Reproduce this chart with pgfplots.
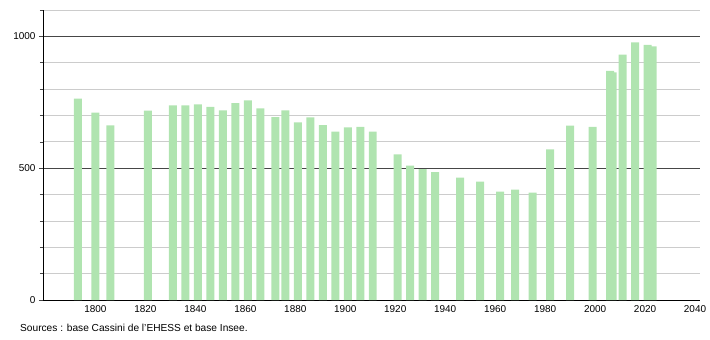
\documentclass[border=0pt]{standalone}
\usepackage{fontspec}
\setmainfont{Liberation Sans}
\usepackage{pgfplots}
\pgfplotsset{compat=1.18}
\definecolor{barg}{RGB}{176,228,176}
\definecolor{lgrid}{RGB}{204,204,204}
\definecolor{dgrid}{RGB}{70,70,70}
\begin{document}
\begin{tikzpicture}
\path (0,0) rectangle (710bp,340bp);
\begin{axis}[
  at={(43bp,40bp)}, anchor=origin,
  scale only axis, width=657bp, height=290bp,
  xmin=1779, xmax=2042, ymin=0, ymax=1100,
  axis x line=bottom, axis y line=left,
  axis line style={black, line width=0.8pt, -},
  xtick={1800,1820,...,2040},
  xtick style={draw=none},
  ytick={0,500,1000},
  minor ytick={100,200,300,400,600,700,800,900,1100},
  ymajorgrids, yminorgrids,
  major grid style={dgrid, line width=0.7pt},
  minor grid style={lgrid, line width=0.7pt},
  ytick style={dgrid, line width=0.6pt},
  minor tick style={lgrid},
  tick align=outside,
  major tick length=4bp, minor tick length=3bp,
  xticklabel style={/pgf/number format/1000 sep={}, font=\fontsize{10}{12}\selectfont, yshift=2bp},
  yticklabel style={/pgf/number format/1000 sep={}, font=\fontsize{10}{12}\selectfont},
  /pgf/number format/assume math mode=true,
  clip=false,
]
\addplot[ybar, bar width=3.2, fill=barg, draw=none] coordinates {
(1793,764) (1800,711) (1806,662) (1821,718) (1831,738) (1836,738)
(1841,742) (1846,733) (1851,719) (1856,747) (1861,757) (1866,727)
(1872,694) (1876,719) (1881,674) (1886,693) (1891,663) (1896,639)
(1901,655) (1906,657) (1911,639) (1921,552) (1926,510) (1931,496)
(1936,485) (1946,464) (1954,449) (1962,411) (1968,419) (1975,407)
(1982,571) (1990,661) (1999,657) (2006,869) (2007,863) (2011,931)
(2016,977) (2021,968) (2023,962)
};
\node[anchor=west, font=\fontsize{10.2}{12}\selectfont, inner sep=0pt, xshift=-23bp, yshift=-28bp] at (rel axis cs:0,0) {Sources : base Cassini de l'EHESS et base Insee.};
\end{axis}
\end{tikzpicture}
\end{document}
